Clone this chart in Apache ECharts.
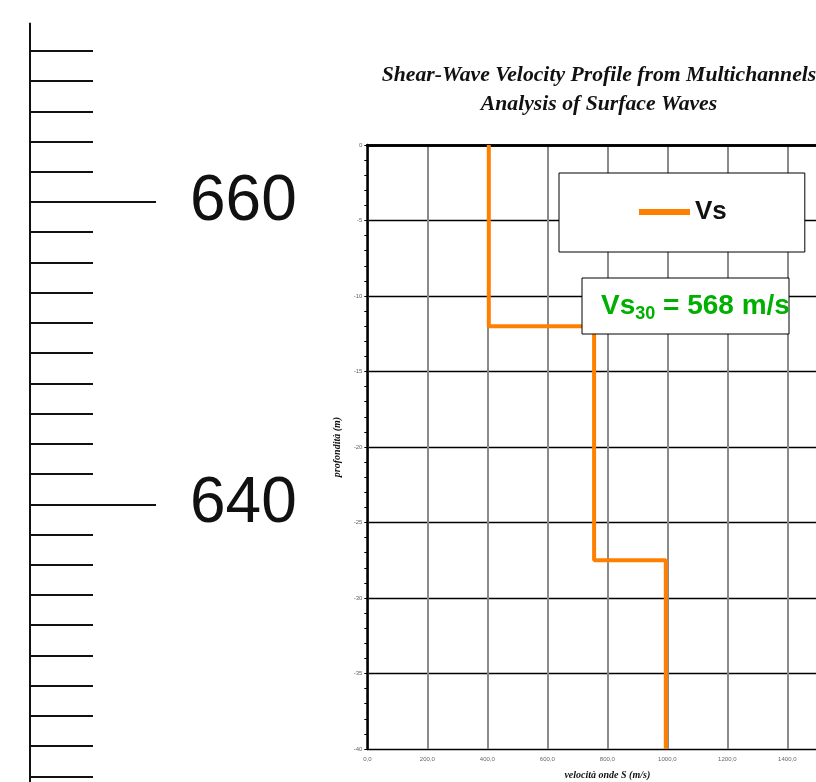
<!DOCTYPE html>
<html>
<head>
<meta charset="utf-8">
<script src="https://cdn.jsdelivr.net/npm/echarts@6/dist/echarts.min.js"></script>
<style>
html,body{margin:0;padding:0;background:#fff;}
#chart{width:816px;height:782px;}
</style>
</head>
<body>
<div id="chart"></div>
<script>
// ---- data ----
const depthBreaks = [0, 12, 27.5, 40];       // m (layer boundaries)
const vsValues = [405, 756, 995];             // m/s per layer
const seriesName = 'Vs';
const vs30Text = '568 m/s';
const xTickLabels = ['0,0','200,0','400,0','600,0','800,0','1000,0','1200,0','1400,0','1600,0'];
const yTickLabels = ['-40','-35','-30','-25','-20','-15','-10','-5','0'];
const titleLines = ['Shear-Wave Velocity Profile from Multichannels', 'Analysis of Surface Waves'];
const xAxisName = 'velocità onde S (m/s)';
const yAxisName = 'profondità (m)';
// elevation scale on the left
const scaleMinorTicks = [622,624,626,628,630,632,634,636,638,640,642,644,646,648,650,652,654,656,658,660,662,664,666,668,670];
const scaleMajorTicks = [640, 660];

// build step profile from layers
const profile = [];
for (let i = 0; i < vsValues.length; i++) {
  profile.push([vsValues[i], -depthBreaks[i]]);
  profile.push([vsValues[i], -depthBreaks[i + 1]]);
}

const chart = echarts.init(document.getElementById('chart'), null, {renderer: 'canvas'});
const SANS = '"Liberation Sans", Arial, sans-serif';
const SERIF = '"Liberation Serif", "Times New Roman", serif';

const option = {
  backgroundColor: '#ffffff',
  animation: false,
  grid: [
    {left: 367.3, top: 145, width: 480, height: 604, containLabel: false, outerBoundsMode: 'none'},
    {left: 30, top: 23.6, width: 10, height: 783, containLabel: false, outerBoundsMode: 'none'}
  ],
  xAxis: [
    {
      gridIndex: 0, type: 'value', position: 'bottom', min: 0, max: 1600, interval: 200,
      axisLine: {show: true, lineStyle: {color: '#000', width: 2.5}},
      axisTick: {show: false},
      splitLine: {show: true, lineStyle: {color: '#8a8a8a', width: 2}},
      axisLabel: {fontSize: 6, color: '#666', margin: 7, fontFamily: SANS,
        formatter: function (v) { return xTickLabels[Math.round(v / 200)]; }},
      name: xAxisName, nameLocation: 'middle', nameGap: 21,
      nameTextStyle: {fontFamily: SERIF, fontStyle: 'italic', fontWeight: 'bold', fontSize: 10, color: '#111'}
    },
    {
      gridIndex: 0, type: 'value', position: 'top', min: 0, max: 1600, interval: 200,
      axisLine: {show: true, lineStyle: {color: '#000', width: 2.5}},
      axisTick: {show: false}, axisLabel: {show: false}, splitLine: {show: false}
    },
    {gridIndex: 1, type: 'value', show: false, min: 0, max: 1}
  ],
  yAxis: [
    {
      gridIndex: 0, type: 'value', min: -40, max: 0, interval: 5,
      axisLine: {show: true, lineStyle: {color: '#000', width: 2.5}},
      axisTick: {show: true, length: 3, lineStyle: {color: '#000', width: 1}},
      minorTick: {show: true, splitNumber: 5, length: 3, lineStyle: {color: '#000', width: 1}},
      splitLine: {show: true, lineStyle: {color: '#000', width: 1.3}},
      axisLabel: {fontSize: 6, color: '#666', margin: 5, fontFamily: SANS,
        formatter: function (v) { return yTickLabels[Math.round((v + 40) / 5)]; }},
      name: yAxisName, nameLocation: 'middle', nameGap: 21, nameRotate: 90,
      nameTextStyle: {fontFamily: SERIF, fontStyle: 'italic', fontWeight: 'bold', fontSize: 10, color: '#111'}
    },
    {
      gridIndex: 1, type: 'value', position: 'left', offset: 0, min: 620, max: 671.8,
      axisLine: {show: true, lineStyle: {color: '#111', width: 2}},
      axisTick: {show: true, inside: true, length: 63, customValues: scaleMinorTicks, lineStyle: {color: '#111', width: 2}},
      axisLabel: {show: false},
      splitLine: {show: false}
    },
    {
      gridIndex: 1, type: 'value', position: 'left', offset: 0, min: 620, max: 671.8,
      axisLine: {show: false},
      axisTick: {show: true, inside: true, length: 126, customValues: scaleMajorTicks, lineStyle: {color: '#111', width: 2}},
      axisLabel: {show: true, inside: true, margin: 160, customValues: scaleMajorTicks,
        fontSize: 64, color: '#111', fontFamily: SANS},
      splitLine: {show: false}
    }
  ],
  legend: {
    show: true, data: [seriesName], left: 559, top: 173, orient: 'horizontal',
    padding: [26, 78, 27, 80],
    backgroundColor: '#fff', borderColor: '#000', borderWidth: 1,
    icon: 'rect', itemWidth: 51, itemHeight: 6, itemGap: 5,
    textStyle: {fontFamily: SANS, fontWeight: 'bold', fontSize: 26, color: '#111', lineHeight: 26}
  },
  series: [
    {
      name: seriesName, type: 'line', xAxisIndex: 0, yAxisIndex: 0,
      data: profile, showSymbol: false, symbol: 'none',
      lineStyle: {color: '#FF8000', width: 4}, itemStyle: {color: '#FF8000'},
      z: 5
    }
  ],
  graphic: [
    {
      type: 'text', x: 599, y: 60.5, z: 10,
      style: {
        text: titleLines.join('\n'), textAlign: 'center', textVerticalAlign: 'top',
        font: 'italic bold 21.7px ' + SERIF, lineHeight: 29, fill: '#111'
      }
    },
    {
      type: 'rect', z: 10,
      shape: {x: 582, y: 278, width: 207, height: 56},
      style: {fill: '#fff', stroke: '#000', lineWidth: 1}
    },
    {
      type: 'text', z: 11, x: 601, y: 306,
      style: {
        text: '{a|Vs}{b|30}{a| = ' + vs30Text + '}',
        textVerticalAlign: 'middle', textAlign: 'left',
        rich: {
          a: {fontFamily: SANS, fontWeight: 'bold', fontSize: 28, lineHeight: 34, fill: '#00B000', color: '#00B000'},
          b: {fontFamily: SANS, fontWeight: 'bold', fontSize: 18, lineHeight: 22, verticalAlign: 'bottom', fill: '#00B000', color: '#00B000'}
        }
      }
    }
  ]
};
chart.setOption(option);
</script>
</body>
</html>
